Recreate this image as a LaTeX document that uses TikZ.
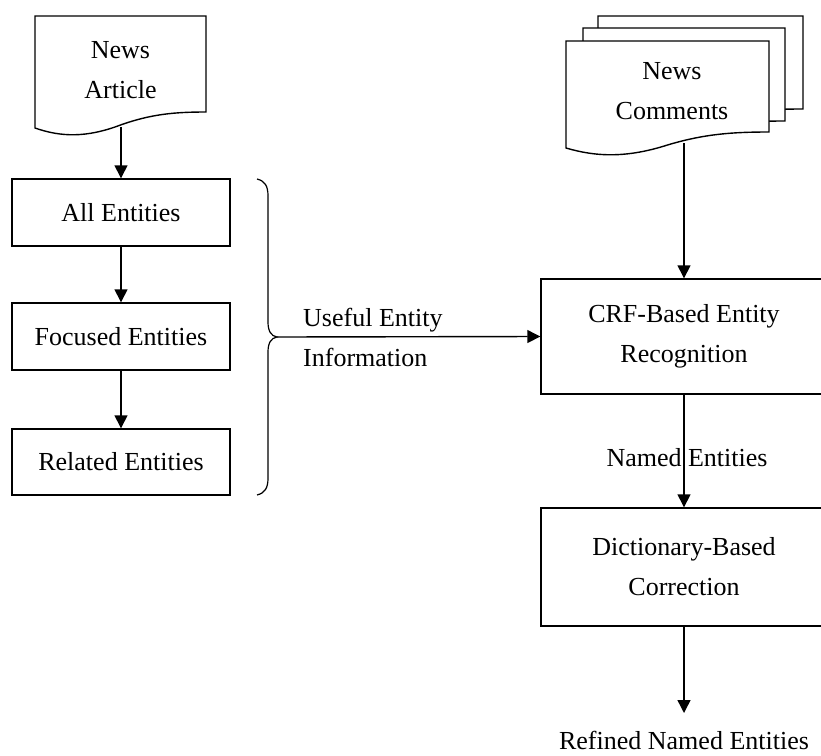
\documentclass[tikz,border=0pt]{standalone}
\usepackage{fontspec}
\setmainfont{Liberation Serif}
\usetikzlibrary{arrows.meta}
\newcommand{\mydocpath}[4]{% L T R B
  (#1,#2) -- (#3,#2) -- (#3,#4-16)
  .. controls ({#3-0.18*(#3-#1)},#4-16) and ({#1+0.68*(#3-#1)},#4-14) .. ({#1+0.5*(#3-#1)},#4-3)
  .. controls ({#1+0.3*(#3-#1)},#4+10) and ({#1+0.15*(#3-#1)},#4+9) .. (#1,#4) -- cycle}
\begin{document}
\begin{tikzpicture}[x=1pt,y=-1pt,
  every node/.style={font=\fontsize{26}{40}\selectfont, align=center},
  box/.style={draw, line width=1.4pt, inner sep=0pt},
  docline/.style={draw, line width=1.4pt, fill=white, line join=miter},
  arr/.style={line width=1.4pt, -{Triangle[length=13pt,width=13pt]}},
  lbl/.style={inner sep=0pt}]
\useasboundingbox (0,0) rectangle (821,755);

% News Article document
\path[docline] \mydocpath{35}{16}{206}{128};
\node[lbl] (art) at (120.5,70) {News\\Article};
\coordinate (artb) at (121,127);

% News Comments stacked documents
\path[docline] \mydocpath{598}{16}{803}{125};
\path[docline] \mydocpath{583}{28}{785}{137};
\path[docline] \mydocpath{566}{41}{769}{148};
\node[lbl] (com) at (672,91) {News\\Comments};
\coordinate (comb) at (684,143);

% left boxes
\node[box, minimum width=218pt, minimum height=67pt] (all) at (121,212.5) {All Entities};
\node[box, minimum width=218pt, minimum height=67pt] (foc) at (121,336.5) {Focused Entities};
\node[box, minimum width=218pt, minimum height=66pt] (rel) at (121,462) {Related Entities};

% right boxes
\node[box, minimum width=286pt, minimum height=115pt] (crf) at (684,336.5) {CRF-Based Entity\\Recognition};
\node[box, minimum width=286pt, minimum height=118pt] (dict) at (684,567) {Dictionary-Based\\Correction};

% brace
\coordinate (brt) at (277,337);
\draw[line width=1.2pt] (257,179) .. controls (265,181) and (268,186) .. (268,196)
  -- (268,322) .. controls (268,331) and (271,336) .. (brt)
  .. controls (271,338) and (268,343) .. (268,352)
  -- (268,478) .. controls (268,488) and (265,493) .. (257,495);

% labels
\node[lbl, anchor=west, align=left] (useful) at (303,337) {Useful Entity\\Information};
\node[lbl] (named) at (687,458) {Named Entities};
\node[lbl] (refined) at (684,740) {Refined Named Entities};
\coordinate (refarr) at (684,713);

% arrows
\draw[arr] (artb) -- (all.north);
\draw[arr] (all.south) -- (foc.north);
\draw[arr] (foc.south) -- (rel.north);
\draw[arr] (brt) -- (crf.west);
\draw[arr] (comb) -- (crf.north);
\draw[arr] (crf.south) -- (dict.north);
\draw[arr] (dict.south) -- (refarr);
\end{tikzpicture}
\end{document}
